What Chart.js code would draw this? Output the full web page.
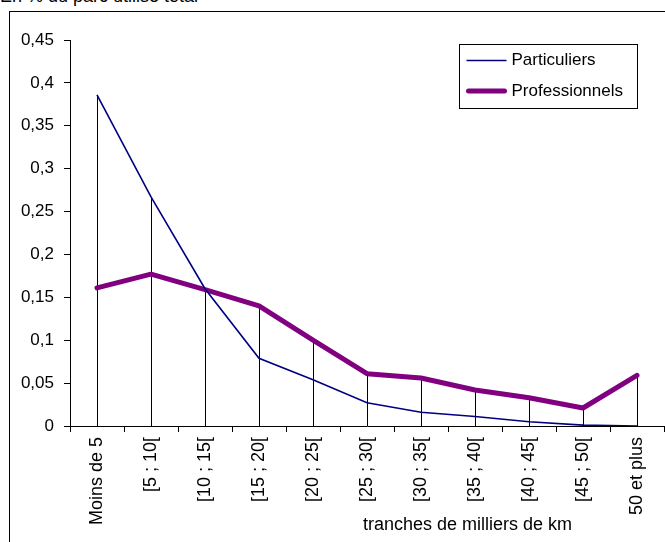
<!DOCTYPE html>
<html>
<head>
<meta charset="utf-8">
<script src="https://cdn.jsdelivr.net/npm/chart.js@4"></script>
<style>
  body { margin: 0; background: #fff; overflow: hidden; }
  #wrap { position: relative; width: 665px; height: 542px; overflow: hidden; }
  #frame { position: absolute; left: 9px; top: 11px; width: 700px; height: 600px; border: 1.5px solid #000; }
  #title { position: absolute; left: 0; top: -13px; font: 18px 'Liberation Sans', Arial, sans-serif; line-height: 18px; color: #000; white-space: nowrap; }
  #xtitle { position: absolute; left: 363px; top: 515px; font: 18px 'Liberation Sans', Arial, sans-serif; line-height: 18px; color: #000; white-space: nowrap; }
  canvas { position: absolute; left: 0; top: 0; }
</style>
</head>
<body>
<div id="wrap">
  <div id="title">En % du parc utilisé total</div>
  <div id="frame"></div>
  <canvas id="chart" width="665" height="542"></canvas>
  <div id="xtitle">tranches de milliers de km</div>
</div>
<script>
const categories = ['Moins de 5', '[5 ; 10[', '[10 ; 15[', '[15 ; 20[', '[20 ; 25[', '[25 ; 30[',
                    '[30 ; 35[', '[35 ; 40[', '[40 ; 45[', '[45 ; 50[', '50 et plus'];
const particuliers = [0.386, 0.267, 0.160, 0.079, 0.054, 0.027, 0.016, 0.011, 0.005, 0.001, 0];
const professionnels = [0.161, 0.177, 0.159, 0.140, 0.100, 0.061, 0.056, 0.042, 0.033, 0.021, 0.059];

const FONT = "'Liberation Sans', Arial, sans-serif";

// vertical drop lines from the highest point down to 0
const dropLines = {
    id: 'dropLines',
    beforeDatasetsDraw(chart) {
        const ctx = chart.ctx;
        const x = chart.scales.x, y = chart.scales.y;
        ctx.save();
        ctx.strokeStyle = '#000';
        ctx.lineWidth = 1;
        categories.forEach((c, i) => {
            const top = Math.max(particuliers[i], professionnels[i]);
            const px = Math.round(x.getPixelForValue(i)) + 0.5;
            ctx.beginPath();
            ctx.moveTo(px, y.getPixelForValue(top));
            ctx.lineTo(px, y.getPixelForValue(0));
            ctx.stroke();
        });
        ctx.restore();
    }
};

// boxed legend inside the plot, top right
const boxLegend = {
    id: 'boxLegend',
    afterDraw(chart) {
        const ctx = chart.ctx;
        const left = 459.5, top = 44.5, w = 178, h = 64;
        ctx.save();
        ctx.fillStyle = '#fff';
        ctx.fillRect(left, top, w, h);
        ctx.strokeStyle = '#000';
        ctx.lineWidth = 1;
        ctx.strokeRect(left, top, w, h);
        ctx.font = '17px ' + FONT;
        ctx.textBaseline = 'middle';
        ctx.fillStyle = '#000';
        chart.data.datasets.forEach((ds, i) => {
            const cy = top + 16 + i * 30.5;
            ctx.strokeStyle = ds.borderColor;
            ctx.lineWidth = ds.borderWidth;
            ctx.lineCap = i ? 'round' : 'butt';
            ctx.beginPath();
            ctx.moveTo(left + 7 + (i ? 2 : 0), cy);
            ctx.lineTo(left + 47 - (i ? 2 : 0), cy);
            ctx.stroke();
            ctx.fillText(ds.label, left + 52, cy);
        });
        ctx.restore();
    }
};

new Chart(document.getElementById('chart'), {
    type: 'line',
    data: {
        labels: categories,
        datasets: [{
            label: 'Particuliers',
            data: particuliers,
            borderColor: '#000080',
            borderWidth: 1.6,
            pointRadius: 0,
            tension: 0
        }, {
            label: 'Professionnels',
            data: professionnels,
            borderColor: '#800080',
            borderWidth: 5,
            pointRadius: 0,
            tension: 0,
            borderJoinStyle: 'round',
            borderCapStyle: 'round'
        }]
    },
    options: {
        responsive: false,
        animation: false,
        layout: { padding: { top: 40, right: 1, left: 0, bottom: 0 } },
        plugins: {
            legend: { display: false },
            tooltip: { enabled: false }
        },
        scales: {
            x: {
                type: 'category',
                offset: true,
                afterFit(s) { s.height = 116; },
                grid: { offset: true, drawOnChartArea: false, color: '#000', tickLength: 6 },
                border: { color: '#000', width: 1 },
                ticks: {
                    minRotation: 90, maxRotation: 90, autoSkip: false,
                    padding: 5,
                    color: '#000',
                    font: { family: FONT, size: 18 }
                }
            },
            y: {
                min: 0,
                max: 0.45,
                afterFit(s) { s.width = 70; },
                grid: { drawOnChartArea: false, color: '#000', tickLength: 6 },
                border: { color: '#000', width: 1 },
                ticks: {
                    stepSize: 0.05,
                    padding: 10,
                    color: '#000',
                    font: { family: FONT, size: 17 },
                    callback: v => String(Number(v.toFixed(2))).replace('.', ',')
                }
            }
        }
    },
    plugins: [dropLines, boxLegend]
});
</script>
</body>
</html>
